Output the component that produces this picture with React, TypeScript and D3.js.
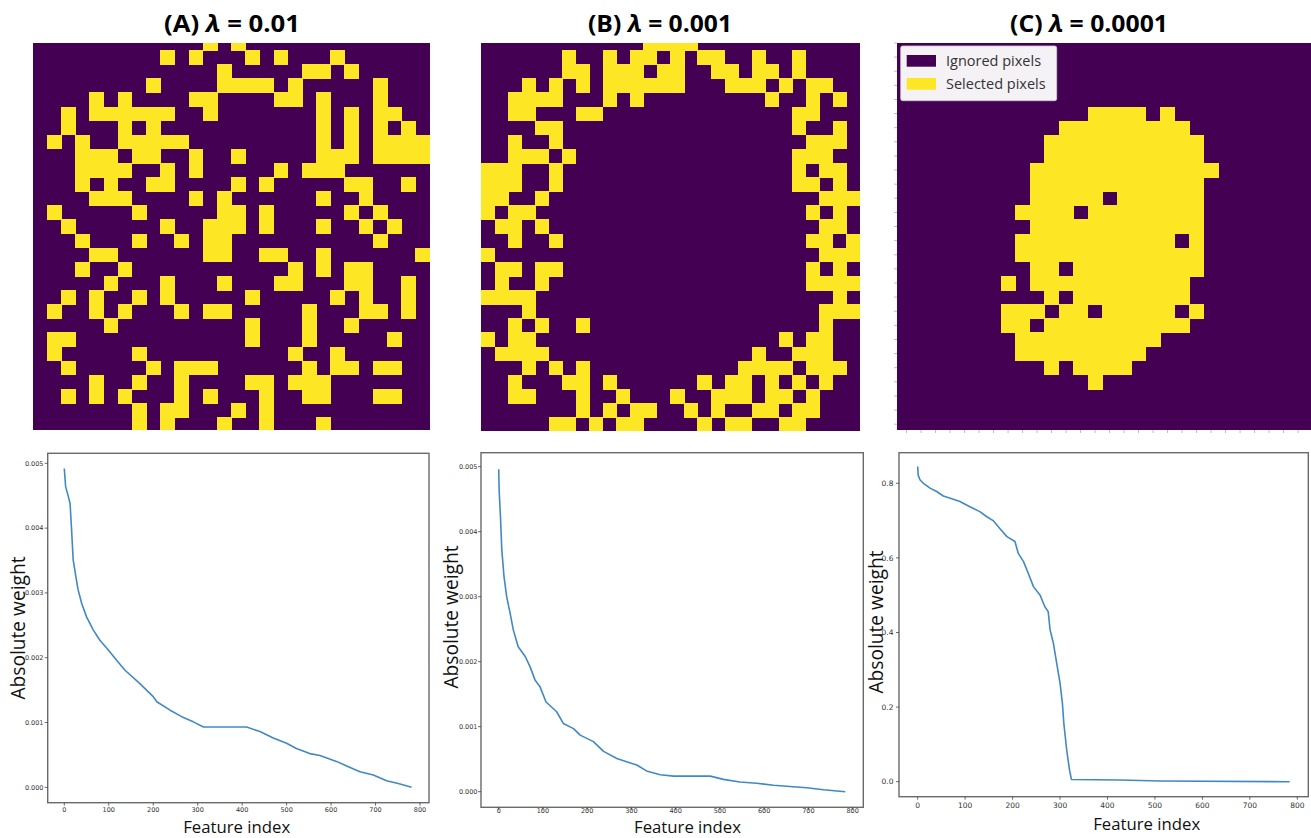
import React from "react";
import * as d3 from "d3";

const PURPLE = "#440154";
const YELLOW = "#fde725";
const LINE = "#4189c4";

const panelLetters = ["(A)", "(B)", "(C)"];
const lambdaValues = ["0.01", "0.001", "0.0001"];

// selected pixel columns per row (28 x 28 masks)
const gridA: number[][] = [
  [12, 14],
  [9, 11, 15, 17, 21],
  [13, 19, 20, 22],
  [8, 13, 14, 15, 16, 18, 24],
  [4, 6, 11, 12, 17, 18, 20, 24],
  [2, 4, 5, 6, 7, 8, 9, 12, 20, 22, 24, 25],
  [2, 6, 8, 20, 22, 24, 26],
  [1, 3, 6, 7, 8, 9, 10, 20, 22, 24, 25, 26, 27],
  [3, 4, 5, 7, 8, 11, 14, 20, 21, 22, 24, 25, 26, 27],
  [3, 4, 5, 6, 9, 11, 17, 19, 20, 21],
  [3, 5, 8, 9, 14, 16, 22, 23, 26],
  [4, 5, 6, 11, 13, 20, 23],
  [1, 7, 13, 14, 16, 22, 24],
  [2, 9, 12, 13, 14, 16, 20, 23, 25],
  [3, 7, 10, 12, 13, 24],
  [4, 5, 12, 13, 16, 17, 20, 27],
  [3, 6, 18, 20, 22, 23],
  [5, 9, 13, 17, 18, 22, 23, 26],
  [2, 4, 7, 9, 15, 21, 23, 26],
  [1, 4, 6, 10, 12, 13, 19, 23, 24, 26],
  [5, 15, 19, 22],
  [1, 2, 15, 19, 25],
  [1, 7, 18, 21],
  [2, 8, 10, 11, 12, 19, 21, 22, 24, 25],
  [4, 7, 10, 15, 16, 18, 19, 20],
  [2, 4, 6, 10, 12, 16, 19, 20, 24, 25],
  [7, 9, 10, 14, 16],
  [7, 9, 13, 16, 20],
];

const gridB: number[][] = [
  [12, 13, 14, 15],
  [6, 9, 11, 12, 14, 16, 17, 20, 23],
  [6, 7, 9, 10, 11, 13, 14, 17, 18, 20, 21, 23],
  [3, 5, 7, 9, 10, 11, 12, 13, 14, 18, 19, 20, 22, 24, 25],
  [2, 3, 4, 5, 9, 11, 21, 24, 26],
  [2, 3, 7, 8, 23, 24],
  [4, 5, 23, 26],
  [2, 5, 24, 25, 26],
  [2, 3, 4, 6, 23, 24, 25],
  [0, 1, 2, 5, 23, 25, 26],
  [0, 1, 2, 5, 23, 24, 26],
  [0, 1, 4, 25, 26, 27],
  [0, 2, 3, 24, 26],
  [1, 2, 4, 25, 26],
  [2, 5, 24, 25, 27],
  [0, 25, 26, 27],
  [1, 2, 4, 5, 24, 26],
  [1, 4, 24, 25, 26, 27],
  [0, 1, 2, 3, 26],
  [3, 25, 26, 27],
  [2, 4, 7, 25],
  [0, 2, 3, 22, 24, 25],
  [1, 2, 3, 4, 20, 23, 24, 25],
  [3, 5, 7, 19, 20, 21, 22, 24, 25, 26],
  [2, 6, 7, 9, 16, 18, 19, 21, 23, 25],
  [2, 3, 7, 10, 14, 17, 18, 19, 21, 22, 24],
  [7, 9, 11, 12, 15, 17, 20, 21, 23, 24],
  [5, 6, 8, 10, 11, 16, 18, 19, 22, 23],
];

const gridC: number[][] = [
  [],
  [],
  [],
  [],
  [],
  [13, 14, 15, 16, 18],
  [11, 12, 13, 14, 15, 16, 17, 18, 19],
  [10, 11, 12, 13, 14, 15, 16, 17, 18, 19, 20],
  [10, 11, 12, 13, 14, 15, 16, 17, 18, 19, 20],
  [9, 10, 11, 12, 13, 14, 15, 16, 17, 18, 19, 20, 21],
  [9, 10, 11, 12, 13, 14, 15, 16, 17, 18, 19, 20],
  [9, 10, 11, 12, 13, 15, 16, 17, 18, 19, 20],
  [8, 9, 10, 11, 13, 14, 15, 16, 17, 18, 19, 20],
  [9, 10, 11, 12, 13, 14, 15, 16, 17, 18, 19, 20],
  [8, 9, 10, 11, 12, 13, 14, 15, 16, 17, 18, 20],
  [8, 9, 10, 11, 12, 13, 14, 15, 16, 17, 18, 19, 20],
  [9, 10, 12, 13, 14, 15, 16, 17, 18, 19, 20],
  [7, 9, 10, 11, 12, 13, 14, 15, 16, 17, 18, 19],
  [10, 12, 13, 14, 15, 16, 17, 18, 19],
  [7, 8, 9, 11, 12, 14, 15, 16, 17, 18, 20],
  [7, 8, 10, 11, 12, 13, 14, 15, 16, 17, 18, 19],
  [8, 9, 10, 11, 12, 13, 14, 15, 16, 17],
  [8, 9, 10, 11, 12, 13, 14, 15, 16],
  [10, 12, 13, 14, 15],
  [13],
  [],
  [],
  [],
];

const legendLabels = ["Ignored pixels", "Selected pixels"];

// sorted absolute weights
const idxA = [0, 3, 9, 13, 16, 20, 26, 31, 39, 50, 65, 80, 99, 114, 136, 170, 200, 208, 238, 264, 290, 313, 410, 440, 470, 500, 522, 552, 575, 612, 635, 665, 695, 725, 751, 781];
const valA = [0.00492, 0.00464, 0.00449, 0.00438, 0.00402, 0.00351, 0.00325, 0.00305, 0.00284, 0.00263, 0.00243, 0.00227, 0.00212, 0.00199, 0.00181, 0.0016, 0.0014, 0.00132, 0.00119, 0.00109, 0.00101, 0.00093, 0.00093, 0.00086, 0.00076, 0.00068, 0.0006, 0.00052, 0.00049, 0.0004, 0.00033, 0.00024, 0.00019, 0.0001, 0.00006, 0];

const idxB = [0, 1, 4, 7, 12, 18, 26, 33, 44, 60, 71, 82, 93, 107, 131, 146, 169, 184, 214, 237, 267, 289, 312, 334, 365, 395, 478, 508, 545, 583, 621, 658, 696, 734, 783];
const valB = [0.00496, 0.00464, 0.00423, 0.00372, 0.00331, 0.003, 0.00274, 0.00249, 0.00223, 0.00208, 0.00192, 0.00172, 0.00162, 0.00138, 0.00123, 0.00105, 0.00097, 0.00087, 0.00077, 0.00062, 0.00051, 0.00046, 0.00041, 0.00032, 0.00026, 0.00024, 0.00024, 0.00019, 0.00015, 0.00013, 0.0001, 0.00008, 0.00006, 0.00003, 0];

const idxC = [0, 1, 5, 12, 26, 40, 54, 75, 89, 110, 131, 145, 159, 173, 188, 205, 212, 223, 233, 244, 258, 268, 275, 279, 286, 293, 300, 305, 308, 314, 320, 324, 426, 510, 784];
const valC = [0.845, 0.822, 0.809, 0.8, 0.787, 0.778, 0.766, 0.757, 0.751, 0.737, 0.724, 0.711, 0.7, 0.679, 0.657, 0.644, 0.612, 0.59, 0.559, 0.523, 0.5, 0.469, 0.456, 0.407, 0.371, 0.317, 0.264, 0.21, 0.156, 0.085, 0.031, 0.006, 0.0045, 0.002, 0];

const xTicks = [0, 100, 200, 300, 400, 500, 600, 700, 800];
const yTicksSmall = [0, 0.001, 0.002, 0.003, 0.004, 0.005];
const yTicksC = [0, 0.2, 0.4, 0.6, 0.8];

const xLabel = "Feature index";
const yLabel = "Absolute weight";

type GridCfg = { rect: [number, number, number, number]; x0: number; cw: number; y0: number; rh: number; ticks?: boolean };

function Grid({ id, cells, cfg }: { id: string; cells: number[][]; cfg: GridCfg }) {
  const [rx, ry, rw, rh] = cfg.rect;
  const x = d3.scaleLinear().domain([0, 28]).range([cfg.x0, cfg.x0 + 28 * cfg.cw]);
  const y = d3.scaleLinear().domain([0, 28]).range([cfg.y0, cfg.y0 + 28 * cfg.rh]);
  const rows = d3.range(28);
  return (
    <g>
      <defs>
        <clipPath id={id}>
          <rect x={rx} y={ry} width={rw} height={rh} />
        </clipPath>
      </defs>
      <rect x={rx} y={ry} width={rw} height={rh} fill={PURPLE} />
      <g clipPath={`url(#${id})`} shapeRendering="crispEdges">
        {cells.map((cols, r) =>
          cols.map((c) => (
            <rect key={`${r}-${c}`} x={x(c)} y={y(r)} width={x(c + 1) - x(c) + 0.6} height={y(r + 1) - y(r) + 0.6} fill={YELLOW} />
          ))
        )}
      </g>
      {cfg.ticks && (
        <g stroke="#a0a0a0" strokeWidth={0.7}>
          {rows.map((r) => (
            <line key={"l" + r} x1={rx - 3} x2={rx} y1={y(r + 0.5)} y2={y(r + 0.5)} />
          ))}
          {rows.map((c) => (
            <line key={"b" + c} x1={x(c + 0.5)} x2={x(c + 0.5)} y1={ry + rh} y2={ry + rh + 3} />
          ))}
        </g>
      )}
    </g>
  );
}

type LineCfg = {
  frame: [number, number, number, number];
  xr: [number, number];
  yr: [number, number];
  ymax: number;
  yTicks: number[];
  fmt: string;
  tickFont: number;
  yLabX: number;
  xLabY: number;
  yTitle: [number, number];
  xTitle: [number, number];
};

function LineChart({ idx, vals, cfg }: { idx: number[]; vals: number[]; cfg: LineCfg }) {
  const [fx0, fy0, fx1, fy1] = cfg.frame;
  const x = d3.scaleLinear().domain([0, 800]).range(cfg.xr);
  const y = d3.scaleLinear().domain([0, cfg.ymax]).range(cfg.yr);
  const fmt = d3.format(cfg.fmt);
  const pts = idx.map((d, i) => [d, vals[i]] as [number, number]);
  const line = d3.line<[number, number]>().x((d) => x(d[0])).y((d) => y(d[1]));
  return (
    <g>
      <rect x={fx0} y={fy0} width={fx1 - fx0} height={fy1 - fy0} fill="#fff" stroke="#6a6a6a" strokeWidth={1.4} />
      {xTicks.map((t) => (
        <g key={"x" + t}>
          <line x1={x(t)} x2={x(t)} y1={fy1} y2={fy1 + 3} stroke="#444" strokeWidth={0.8} />
          <text x={x(t)} y={cfg.xLabY} textAnchor="middle" fontSize={cfg.tickFont} fill="#333" fontFamily="DejaVu Sans">
            {t}
          </text>
        </g>
      ))}
      {cfg.yTicks.map((t) => (
        <g key={"y" + t}>
          <line x1={fx0 - 3} x2={fx0} y1={y(t)} y2={y(t)} stroke="#444" strokeWidth={0.8} />
          <text x={cfg.yLabX} y={y(t)} dy="0.35em" textAnchor="end" fontSize={cfg.tickFont} fill="#333" fontFamily="DejaVu Sans">
            {fmt(t)}
          </text>
        </g>
      ))}
      <path d={line(pts) || ""} fill="none" stroke={LINE} strokeWidth={1.6} strokeLinejoin="round" />
      <text x={cfg.xTitle[0]} y={cfg.xTitle[1]} textAnchor="middle" fontSize={17} fontFamily="Open Sans" fill="#111" textLength={107} lengthAdjust="spacingAndGlyphs">
        {xLabel}
      </text>
      <text transform={`translate(${cfg.yTitle[0]},${cfg.yTitle[1]}) rotate(-90)`} textAnchor="middle" fontSize={20} fontFamily="Open Sans" fill="#111" textLength={143} lengthAdjust="spacingAndGlyphs">
        {yLabel}
      </text>
    </g>
  );
}

const gridCfgs: GridCfg[] = [
  { rect: [33, 43, 397, 387], x0: 32.7, cw: 14.17, y0: 35.9, rh: 14.12 },
  { rect: [481, 43, 379, 388], x0: 481, cw: 13.53, y0: 35.9, rh: 14.12 },
  { rect: [897, 43, 414, 387], x0: 899.3, cw: 14.5, y0: 35.9, rh: 14.12, ticks: true },
];

const lineCfgs: LineCfg[] = [
  { frame: [47.7, 453.3, 429, 802.7], xr: [64.3, 420], yr: [787.3, 463.3], ymax: 0.005, yTicks: yTicksSmall, fmt: ".3f", tickFont: 6.5, yLabX: 43.5, xLabY: 812, yTitle: [25, 628], xTitle: [236.7, 832.5] },
  { frame: [481, 452.7, 863.3, 807.3], xr: [498.7, 852.7], yr: [791.7, 466.7], ymax: 0.005, yTicks: yTicksSmall, fmt: ".3f", tickFont: 6.5, yLabX: 477.5, xLabY: 812.8, yTitle: [458, 617], xTitle: [687.5, 833] },
  { frame: [899, 452.7, 1308.3, 796.7], xr: [917.7, 1297.3], yr: [781.7, 483.3], ymax: 0.8, yTicks: yTicksC, fmt: ".1f", tickFont: 7.5, yLabX: 893.5, xLabY: 807.5, yTitle: [883, 622], xTitle: [1146.7, 830] },
];

const titleCenters = [232, 660, 1089];
const titleWidths = [136, 144, 158];

export default function App() {
  const grids = [gridA, gridB, gridC];
  const lines = [
    [idxA, valA],
    [idxB, valB],
    [idxC, valC],
  ];
  return (
    <svg width={1311} height={838} style={{ position: "absolute", left: 0, top: 0, background: "#fff" }}>
      <rect x={0} y={0} width={1311} height={838} fill="#fff" />
      {panelLetters.map((p, i) => (
        <text key={p} x={titleCenters[i]} y={32} textAnchor="middle" fontSize={24} fontWeight="bold" fontFamily="Open Sans" fill="#000" textLength={titleWidths[i]} lengthAdjust="spacingAndGlyphs">
          {p + " "}
          <tspan fontStyle="italic">λ</tspan>
          {" = " + lambdaValues[i]}
        </text>
      ))}
      {grids.map((g, i) => (
        <Grid key={i} id={"clip" + i} cells={g} cfg={gridCfgs[i]} />
      ))}
      <g>
        <rect x={900.7} y={46} width={156} height={54.7} rx={2} fill="#fff" fillOpacity={0.95} stroke="#cccccc" strokeWidth={0.8} />
        <rect x={906.7} y={55} width={29.3} height={11.7} fill={PURPLE} />
        <rect x={906.7} y={78} width={29.3} height={11.7} fill={YELLOW} />
        <text x={946} y={66} fontSize={14.5} fontFamily="Open Sans" fill="#333">{legendLabels[0]}</text>
        <text x={946} y={89} fontSize={14.5} fontFamily="Open Sans" fill="#333">{legendLabels[1]}</text>
      </g>
      {lines.map((l, i) => (
        <LineChart key={"lc" + i} idx={l[0]} vals={l[1]} cfg={lineCfgs[i]} />
      ))}
    </svg>
  );
}
